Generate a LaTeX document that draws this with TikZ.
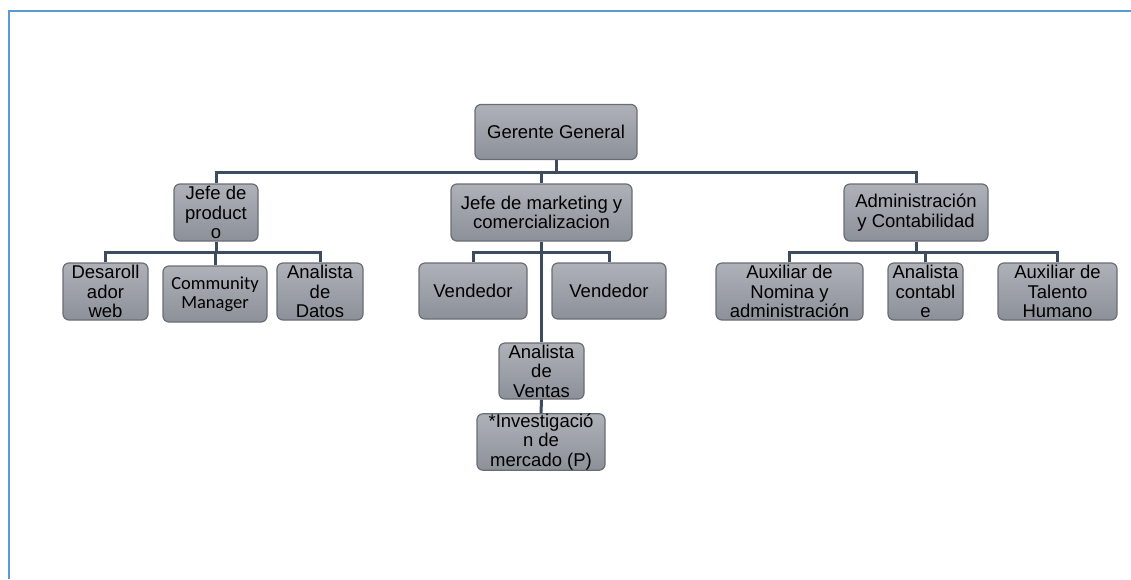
\documentclass[tikz,border=0pt]{standalone}
\usepackage{fontspec}
\setmainfont{Liberation Sans}
\newfontfamily\calibri{Carlito}

\definecolor{boxtop}{HTML}{AEB1B8}
\definecolor{boxbot}{HTML}{8C9098}
\definecolor{boxline}{HTML}{6A6D74}
\definecolor{linkcol}{HTML}{3D4B5F}
\definecolor{framecol}{HTML}{5B9BD5}

\tikzset{
  unit/.style = {draw = boxline, line width = 1.2pt, rounded corners = 6pt,
                 top color = boxtop, bottom color = boxbot,
                 align = center, inner sep = 0pt,
                 font = \fontsize{18.5}{19.5}\selectfont},
  link/.style = {draw = linkcol, line width = 3pt}
}

\begin{document}
\begin{tikzpicture}[x = 1pt, y = -1pt]

	\useasboundingbox (0, 0) rectangle (1131, 579);

	% Frame

	\draw [framecol, line width = 2pt] (8.5, 579) -- (8.5, 10.5) -- (1131, 10.5);

	% Top level

	\node [unit, minimum width = 162pt, minimum height = 55pt] (gg) at (556, 132) {Gerente General};

	% Department heads

	\node [unit, minimum width = 84pt, minimum height = 57pt] (jp) at (216, 212.5) {Jefe de\\product\\o};
	\node [unit, minimum width = 181pt, minimum height = 57pt] (jm) at (541.5, 212.5) {Jefe de marketing y\\comercializacion};
	\node [unit, minimum width = 144pt, minimum height = 57pt] (ac) at (916, 212.5) {Administración\\y Contabilidad};

	% Product staff

	\node [unit, minimum width = 85pt, minimum height = 57pt] (dw) at (105.5, 291.5) {Desaroll\\ador\\web};
	\node [unit, minimum width = 104pt, minimum height = 56pt] (cm) at (215, 294) {\calibri Community\\\calibri Manager};
	\node [unit, minimum width = 86pt, minimum height = 57pt] (ad) at (320, 291.5) {Analista\\de\\Datos};

	% Marketing staff

	\node [unit, minimum width = 108pt, minimum height = 56pt] (v1) at (473, 291) {Vendedor};
	\node [unit, minimum width = 114pt, minimum height = 56pt] (v2) at (609, 291) {Vendedor};
	\node [unit, minimum width = 85pt, minimum height = 56pt] (av) at (541.5, 371) {Analista\\de\\Ventas};
	\node [unit, minimum width = 128pt, minimum height = 56pt] (im) at (541, 442) {*Investigació\\n de\\mercado (P)};

	% Accounting staff

	\node [unit, minimum width = 147pt, minimum height = 57pt] (an) at (789.5, 291.5) {Auxiliar de\\Nomina y\\administración};
	\node [unit, minimum width = 75pt, minimum height = 57pt] (acb) at (925.5, 291.5) {Analista\\contabl\\e};
	\node [unit, minimum width = 119pt, minimum height = 57pt] (th) at (1057.5, 291.5) {Auxiliar de\\Talento\\Humano};

	% Connectors

	\coordinate (bar0) at (556, 172);
	\coordinate (bar1) at (216, 252);
	\coordinate (bar2) at (541.5, 252);
	\coordinate (bar3) at (916, 252);

	\draw [link] (gg.south) -- (bar0);
	\draw [link] (jp.north) |- (bar0) -| (ac.north);
	\draw [link] (jm.north) -- (jm.north |- bar0);

	\draw [link] (jp.south) -- (bar1);
	\draw [link] (dw.north) |- (bar1) -| (ad.north);
	\draw [link] (cm.north) -- (cm.north |- bar1);

	\draw [link] (v1.north) |- (bar2) -| (v2.north);
	\draw [link] (jm.south) -- (av.north);
	\draw [link] (av.south) -- (im.north);

	\draw [link] (ac.south) -- (bar3);
	\draw [link] (an.north) |- (bar3) -| (th.north);
	\draw [link] (acb.north) -- (acb.north |- bar3);

\end{tikzpicture}
\end{document}
